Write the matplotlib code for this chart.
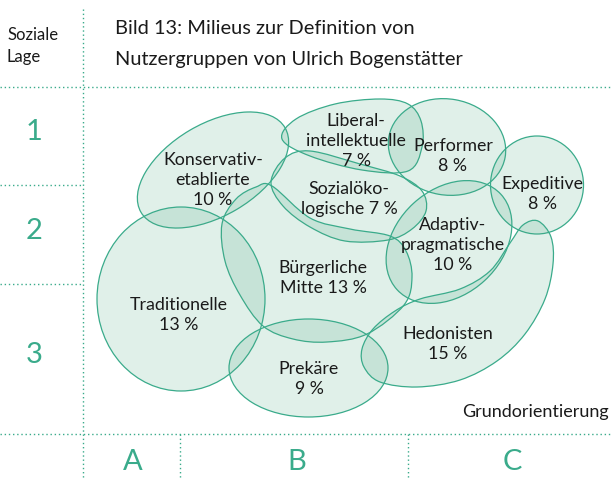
import numpy as np
import matplotlib.pyplot as plt
from matplotlib.patches import Ellipse, PathPatch
from matplotlib.path import Path

# Milieus (Sinus-style map) with their share of the population
milieu_labels = [
    "Konservativ-\netablierte\n{} %",
    "Liberal-\nintellektuelle\n{} %",
    "Performer\n{} %",
    "Expeditive\n{} %",
    "Sozialöko-\nlogische {} %",
    "Adaptiv-\npragmatische\n{} %",
    "Bürgerliche\nMitte {} %",
    "Traditionelle\n{} %",
    "Prekäre\n{} %",
    "Hedonisten\n{} %",
]
shares = [10, 7, 8, 8, 7, 10, 13, 13, 9, 15]

lage_labels = ["1", "2", "3"]
orient_labels = ["A", "B", "C"]

W, H = 613, 481
TEAL = "#3aab8b"
FILL = (0.29, 0.65, 0.51, 0.17)
FONT = "Lato"

# shape outlines in pixel space: ("ellipse", cx, cy, w, h, angle) or ("blob", points)
shapes = [
    ("ellipse", 213, 171, 167, 92, -30.5),
    ("blob", [(282, 140), (296, 120), (335, 105), (380, 100), (408, 105), (421, 122),
              (422, 148), (408, 172), (362, 171), (310, 157)]),
    ("ellipse", 447, 148, 118, 96, 10),
    ("ellipse", 537, 186, 93, 98, 0),
    ("blob", [(271, 183), (285, 159), (310, 152), (360, 165), (400, 177), (422, 192),
              (426, 212), (412, 230), (388, 241), (345, 242), (310, 228), (283, 207)]),
    ("ellipse", 449, 243, 141, 105, -42.6),
    ("blob", [(222, 225), (236, 200), (256, 188), (272, 187), (310, 219), (350, 230),
              (390, 237), (406, 252), (412, 278), (404, 306), (367, 335), (327, 343),
              (293, 340), (263, 327), (240, 296), (225, 262)]),
    ("ellipse", 181, 300, 168, 184, 0),
    ("ellipse", 308.5, 369, 159, 98, 0),
    ("blob", [(362, 350), (373, 330), (395, 312), (420, 300), (460, 290), (490, 272),
              (510, 244), (523, 226), (538, 222), (551, 238), (553, 265), (545, 300),
              (525, 335), (497, 362), (460, 381), (417, 388), (380, 383), (364, 368)]),
]
label_pos = [(213, 180), (356, 141), (453, 156), (542, 194), (349, 199),
             (453, 245), (323, 278), (179, 315), (309, 379), (448, 344)]


def smooth_closed(points):
    p = np.array(points, dtype=float)
    n = len(p)
    verts = [p[0]]
    codes = [Path.MOVETO]
    for i in range(n):
        p0, p1, p2, p3 = p[i - 1], p[i], p[(i + 1) % n], p[(i + 2) % n]
        verts += [p1 + (p2 - p0) / 6, p2 - (p3 - p1) / 6, p2]
        codes += [Path.CURVE4] * 3
    verts.append(p[0])
    codes.append(Path.CLOSEPOLY)
    return Path(verts, codes)


fig = plt.figure(figsize=(W / 100, H / 100), dpi=100)
ax = fig.add_axes([0, 0, 1, 1])
ax.set_xlim(0, W)
ax.set_ylim(H, 0)
ax.axis("off")

# dotted grid
dot = dict(color=TEAL, lw=1.0, ls=(0, (1, 2)))
ax.plot([83, 83], [10, H], **dot)
ax.plot([0, W], [88, 88], **dot)
ax.plot([0, W], [435, 435], **dot)
for y in [186, 285]:
    ax.plot([0, 83], [y, y], **dot)
for x in [180, 408]:
    ax.plot([x, x], [435, H], **dot)

for s in shapes:
    if s[0] == "ellipse":
        _, cx, cy, w, h, ang = s
        patch = Ellipse((cx, cy), w, h, angle=ang)
    else:
        patch = PathPatch(smooth_closed(s[1]))
    patch.set_facecolor(FILL)
    patch.set_edgecolor(TEAL)
    patch.set_linewidth(0.9)
    ax.add_patch(patch)

for fmt, share, (x, y) in zip(milieu_labels, shares, label_pos):
    ax.text(x, y, fmt.format(share), ha="center", va="center", fontsize=12.8,
            family=FONT, color="#1a1a1a", linespacing=1.27)

for lbl, y in zip(lage_labels, [132, 231, 355]):
    ax.text(34, y, lbl, ha="center", va="center", fontsize=21, family=FONT, color=TEAL)
for lbl, x in zip(orient_labels, [133, 297, 512]):
    ax.text(x, 462, lbl, ha="center", va="center", fontsize=21, family=FONT, color=TEAL)

ax.text(7, 35, "Soziale", ha="left", va="center", fontsize=12, family=FONT, color="#1a1a1a")
ax.text(7, 57, "Lage", ha="left", va="center", fontsize=12, family=FONT, color="#1a1a1a")
ax.text(115, 29, "Bild 13: Milieus zur Definition von", ha="left", va="center",
        fontsize=14.4, family=FONT, color="#1a1a1a")
ax.text(115, 60, "Nutzergruppen von Ulrich Bogenstätter", ha="left", va="center",
        fontsize=14.4, family=FONT, color="#1a1a1a")
ax.text(609, 412, "Grundorientierung", ha="right", va="center", fontsize=13,
        family=FONT, color="#1a1a1a")

fig.savefig("out.png", dpi=100)
